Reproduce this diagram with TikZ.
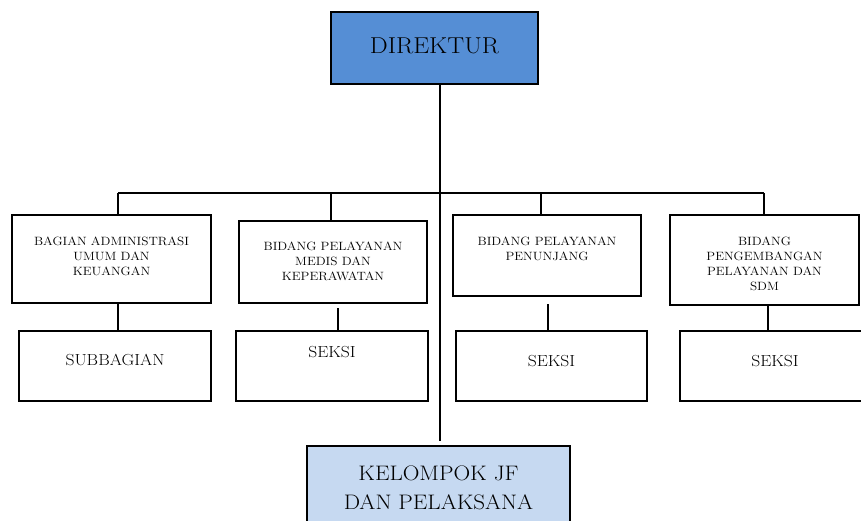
\documentclass[tikz,border=0pt]{standalone}
\usepackage{fontspec}
\setmainfont{Latin Modern Roman}[FakeStretch=1.1]
\definecolor{dirblue}{RGB}{85,142,213}
\definecolor{lightblue}{RGB}{198,217,241}
\begin{document}
\begin{tikzpicture}[x=1pt,y=-1pt,
  box/.style={draw=black, line width=1.6pt, rectangle, inner sep=0pt},
  conn/.style={draw=black, line width=1.6pt},
  small/.style={anchor=north, inner sep=0pt, align=center, font=\fontsize{12}{15}\selectfont},
  mid/.style={anchor=north, inner sep=0pt, align=center, font=\fontsize{16}{18}\selectfont},
  big/.style={anchor=north, inner sep=0pt, align=center, font=\fontsize{21}{29}\selectfont}]
\useasboundingbox (0,0) rectangle (861,520);
% boxes
\node[box, fill=dirblue, minimum width=207pt, minimum height=72pt] (dir) at (434.5,48) {};
\node[box, minimum width=199pt, minimum height=88pt] (b1) at (111.5,259) {};
\node[box, minimum width=192pt, minimum height=70pt] (s1) at (115,366) {};
\node[box, minimum width=188pt, minimum height=82pt] (b2) at (333,262) {};
\node[box, minimum width=192pt, minimum height=70pt] (s2) at (332,366) {};
\node[box, minimum width=188pt, minimum height=81pt] (b3) at (547,255.5) {};
\node[box, minimum width=191pt, minimum height=70pt] (s3) at (551.5,366) {};
\node[box, minimum width=189pt, minimum height=90pt] (b4) at (764.5,260) {};
\node[box, minimum width=190pt, minimum height=70pt] (s4) at (775,366) {};
\node[box, fill=lightblue, minimum width=263pt, minimum height=84pt] (kel) at (438.5,488) {};
% texts
\node[anchor=north, inner sep=0pt, font=\fontsize{23}{26}\selectfont] (tdir) at (434.5,38) {DIREKTUR};
\node[small] (t1) at (111.5,237) {BAGIAN ADMINISTRASI\\UMUM DAN\\KEUANGAN};
\node[small] (t2) at (333,242) {BIDANG PELAYANAN\\MEDIS DAN\\KEPERAWATAN};
\node[small] (t3) at (547,237) {BIDANG PELAYANAN\\PENUNJANG};
\node[small] (t4) at (764.5,237) {BIDANG\\PENGEMBANGAN\\PELAYANAN DAN\\SDM};
\node[mid] (ts1) at (115,354) {SUBBAGIAN};
\node[mid] (ts2) at (332,346) {SEKSI};
\node[mid] (ts3) at (551.5,355) {SEKSI};
\node[mid] (ts4) at (775,355) {SEKSI};
\node[big] (tkel) at (438.5,466) {KELOMPOK JF\\DAN PELAKSANA};
% connectors
\coordinate (tend) at (440,441);
\coordinate (busL) at (118,193);
\coordinate (busR) at (764,193);
\coordinate (c2) at (331,193);
\coordinate (c3) at (541,193);
\coordinate (u2) at (338,308);
\coordinate (u3) at (548,304);
\coordinate (u4) at (768,305);
\draw[conn] (dir.south -| tend) -- (tend);
\draw[conn] (busL) -- (busR);
\draw[conn] (busL) -- (b1.north -| busL);
\draw[conn] (c2) -- (b2.north -| c2);
\draw[conn] (c3) -- (b3.north -| c3);
\draw[conn] (busR) -- (b4.north -| busR);
\draw[conn] (b1.south -| busL) -- (s1.north -| busL);
\draw[conn] (u2) -- (s2.north -| u2);
\draw[conn] (u3) -- (s3.north -| u3);
\draw[conn] (b4.south -| u4) -- (s4.north -| u4);
\end{tikzpicture}
\end{document}
